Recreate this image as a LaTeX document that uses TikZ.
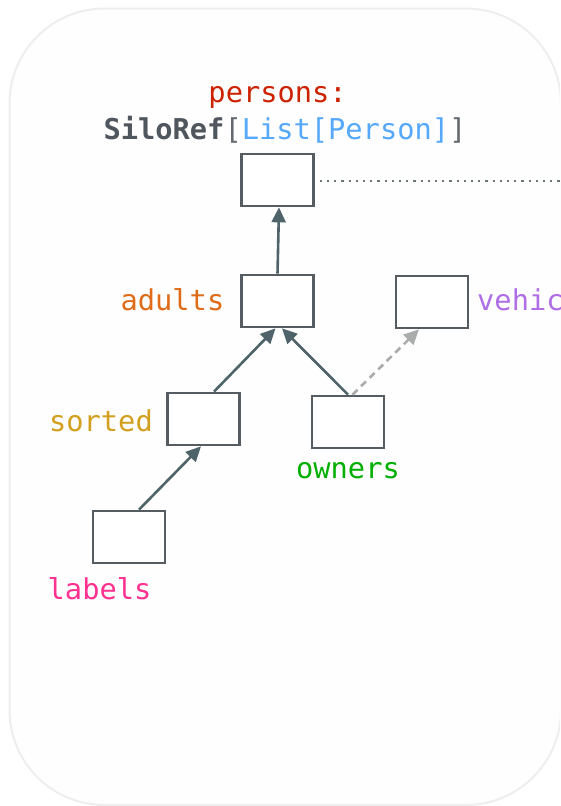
\documentclass[tikz,border=0pt]{standalone}
\usepackage{fontspec}
\setmonofont{DejaVu Sans Mono}
\usetikzlibrary{arrows.meta}

\definecolor{panelfill}{RGB}{254,254,254}
\definecolor{panelline}{RGB}{238,238,238}
\definecolor{boxline}{RGB}{85,92,98}
\definecolor{edgecol}{RGB}{78,100,106}
\definecolor{weakedge}{RGB}{170,172,172}
\definecolor{linkdots}{RGB}{110,120,124}
\definecolor{personsC}{RGB}{204,34,0}
\definecolor{typeC}{RGB}{80,86,94}
\definecolor{bracketC}{RGB}{100,106,112}
\definecolor{innerC}{RGB}{85,168,250}
\definecolor{adultsC}{RGB}{224,108,24}
\definecolor{vehiclesC}{RGB}{175,110,230}
\definecolor{sortedC}{RGB}{210,160,30}
\definecolor{ownersC}{RGB}{0,175,0}
\definecolor{labelsC}{RGB}{255,50,145}

\tikzset{
  silobox/.style={draw=boxline, line width=2.7pt, fill=white,
    minimum width=72pt, minimum height=52pt, inner sep=0pt},
  tag/.style={inner sep=0pt, font=\ttfamily\fontsize{28.7}{34}\selectfont},
  depedge/.style={draw=edgecol, line width=2.6pt,
    -{Triangle[length=15pt,width=14pt]}},
  weakdep/.style={draw=weakedge, line width=2.6pt, dash pattern=on 7pt off 5pt,
    -{Triangle[length=15pt,width=14pt]}},
}

\begin{document}
\begin{tikzpicture}[x=1pt, y=-1pt]
  \useasboundingbox (0,0) rectangle (560,806);
  \clip (0,0) rectangle (560,806);

  % rounded panel behind everything
  \draw[panelline, fill=panelfill, line width=2pt, rounded corners=95pt]
    (9.5,8.5) rectangle (561,805);

  % title of the root silo
  \node[tag, anchor=base, text=personsC] (title) at (277.6,102) {persons:};
  \node[tag, anchor=base] (ttype) at (285,139)
    {\textcolor{typeC}{\bfseries SiloRef}\textcolor{bracketC}{[}\textcolor{innerC}{List[Person]}\textcolor{bracketC}{]}};

  % silo boxes
  \node[silobox] (persons)  at (277.5,180) {};
  \node[silobox] (adults)   at (277.5,301) {};
  \node[silobox] (vehicles) at (432,302) {};
  \node[silobox] (sorted)   at (203.5,419) {};
  \node[silobox] (owners)   at (348,422) {};
  \node[silobox] (labels)   at (129,537) {};

  % names of the derived silos
  \node[tag, anchor=base east, text=adultsC]   (adultsL)   at (224.5,310) {adults};
  \node[tag, anchor=base west, text=vehiclesC] (vehiclesL) at (477,310) {vehicles};
  \node[tag, anchor=base east, text=sortedC]   (sortedL)   at (153,431) {sorted};
  \node[tag, anchor=base,      text=ownersC]   (ownersL)   at (348,478) {owners};
  \node[tag, anchor=base west, text=labelsC]   (labelsL)   at (47.5,599) {labels};

  % link continuing off to the right
  \coordinate (farright) at (575,180.8);
  \draw[linkdots, line width=2.4pt, dash pattern=on 2.2pt off 5pt]
    ([xshift=5pt,yshift=-0.8pt]persons.east) -- (farright);

  % lineage edges
  \draw[depedge] (adults.north) -- ([xshift=1.5pt]persons.south);
  \draw[depedge] ([xshift=10.5pt]sorted.north) -- ([xshift=-2pt]adults.south);
  \draw[depedge] (owners.north) -- ([xshift=4.5pt]adults.south);
  \draw[depedge] ([xshift=10pt]labels.north) -- ([xshift=-2.5pt]sorted.south);
  \draw[weakdep] ([xshift=4.5pt]owners.north) -- ([xshift=-13pt]vehicles.south);
\end{tikzpicture}
\end{document}
